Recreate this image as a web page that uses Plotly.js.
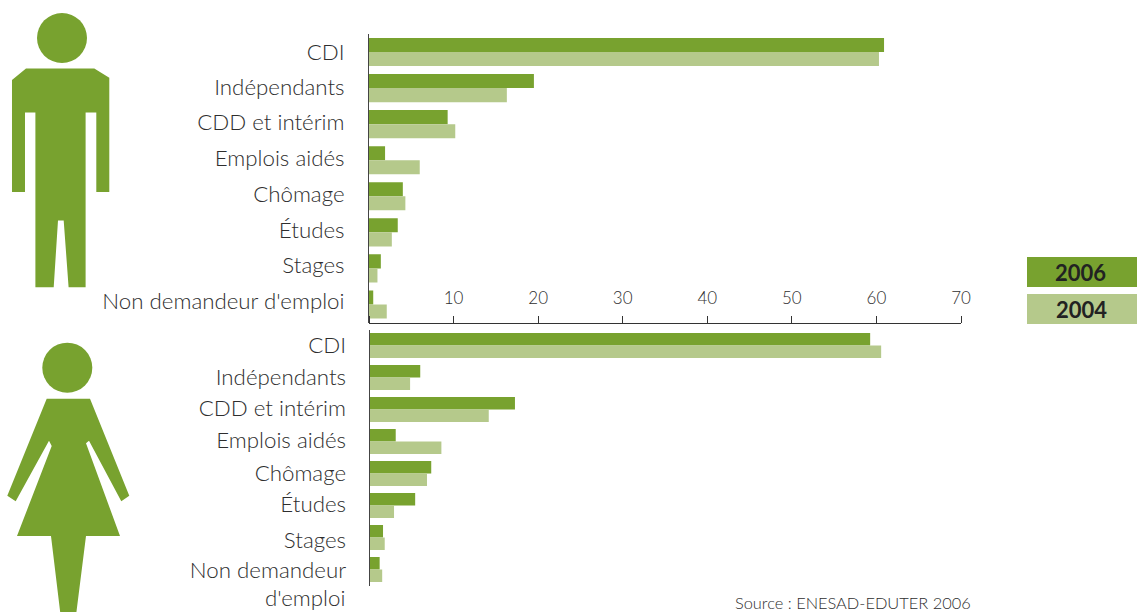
<!DOCTYPE html>
<html><head><meta charset="utf-8">
<script src="https://cdn.plot.ly/plotly-3.0.1.min.js"></script>
<style>html,body{margin:0;padding:0;background:#fff;overflow:hidden}</style>
</head><body><div id="chart" style="width:1137px;height:612px"></div>
<script>
const menCategories = ["CDI","Indépendants","CDD et intérim","Emplois aidés","Chômage","Études","Stages","Non demandeur d'emploi"];
const womenCategories = ["CDI","Indépendants","CDD et intérim","Emplois aidés","Chômage","Études","Stages","Non demandeur"];
const men2006 = [60.9,19.5,9.3,1.9,4.0,3.4,1.4,0.5];
const men2004 = [60.3,16.3,10.2,6.0,4.3,2.7,1.0,2.1];
const women2006 = [59.2,6.0,17.2,3.1,7.3,5.4,1.6,1.2];
const women2004 = [60.5,4.8,14.1,8.5,6.8,2.9,1.8,1.5];
const xTicks = [0,10,20,30,40,50,60,70];
const xTickText = ["","10","20","30","40","50","60","70"];
const menLabelShift = [0,-0.03,-0.05,-0.05,-0.05,-0.05,-0.08,-0.08];
const womenLabelShift = [0,0,-0.05,-0.05,0,-0.05,0.09,0.02];
const C06 = "#78A22F", C04 = "#B5C98B", TXT = "#2e2e2e";
const FF = "Lato, sans-serif";
const W = 1137, H = 612;
const fx = p => p / W, fy = p => 1 - p / H;
const idx = a => a.map((_, i) => i);
const path = pts => "M" + pts.map(p => fx(p[0]).toFixed(5) + "," + fy(p[1]).toFixed(5)).join("L") + "Z";
const manBody = [[26,68.4],[94.3,68.4],[109.3,77.8],[109.3,192],[96.3,192],[96.3,112.4],[85.6,112.4],[85.6,287.3],[68.6,287.3],[63.7,220.4],[58,220.4],[53.7,287.3],[35.4,287.3],[35.4,112.4],[25,112.4],[25,192],[12,192],[12,80]];
const womanBody = [[46.7,398.7],[90,398.7],[129.3,495.7],[121.3,501.3],[89,440.7],[86,443.3],[120,536],[86,536],[76.3,613],[60.3,613],[51,536],[17,536],[51.7,446],[49,440.7],[15.7,501.3],[7.3,495.7]];
const circle = (cx, cy, r) => ({type:"circle",xref:"paper",yref:"paper",x0:fx(cx-r),x1:fx(cx+r),y0:fy(cy+r),y1:fy(cy-r),fillcolor:C06,line:{width:0},layer:"below"});
const poly = pts => ({type:"path",xref:"paper",yref:"paper",path:path(pts),fillcolor:C06,line:{width:0},layer:"below"});
const rect = (x0, y0, x1, y1, c) => ({type:"rect",xref:"paper",yref:"paper",x0:fx(x0),x1:fx(x1),y0:fy(y1),y1:fy(y0),fillcolor:c,line:{width:0},layer:"below"});
const bar = (y, x, c, ax, ay, name) => ({type:"bar",orientation:"h",name,y,x,xaxis:ax,yaxis:ay,marker:{color:c,line:{width:0}},hoverinfo:"x+y"});
const traces = [
  bar(idx(men2006), men2006, C06, "x", "y", "2006"),
  bar(idx(men2004), men2004, C04, "x", "y", "2004"),
  bar(idx(women2006), women2006, C06, "x2", "y2", "2006"),
  bar(idx(women2004), women2004, C04, "x2", "y2", "2004")
];
const yAxis = (labels, shift, dom, anchor, standoff) => ({
  domain: dom, anchor, range:[7.5,-0.5], tickmode:"array",
  tickvals: labels.map((_, i) => i + shift[i]), ticktext: labels,
  ticks:"", showgrid:false, zeroline:false, showline:true, linecolor:"#444", linewidth:1,
  ticklabelstandoff: standoff, tickfont:{family:FF,size:22.3,color:TXT,weight:300}
});
const layout = {
  width:W, height:H, margin:{l:0,r:0,t:0,b:0}, paper_bgcolor:"#fff", plot_bgcolor:"rgba(0,0,0,0)",
  showlegend:false, barmode:"group", bargap:0.22, bargroupgap:0,
  xaxis:{domain:[fx(369),fx(961)],anchor:"free",position:fy(323),side:"top",range:[0,70],tickmode:"array",tickvals:xTicks,ticktext:xTickText,
    ticks:"outside",ticklen:7,tickwidth:1,tickcolor:"#333",ticklabelstandoff:5,
    showgrid:false,zeroline:false,showline:true,linecolor:"#333",linewidth:1,
    tickfont:{family:FF,size:17,color:TXT,weight:300}},
  yaxis:yAxis(menCategories, menLabelShift, [fy(322.5),fy(34)], "x", 19),
  xaxis2:{domain:[fx(369.5),fx(961.5)],anchor:"y2",range:[0,70],visible:false},
  yaxis2:yAxis(womenCategories, womenLabelShift, [fy(585.5),fy(329.5)], "x2", 18),
  shapes:[circle(62,38,25), poly(manBody), circle(67.3,367.7,25), poly(womanBody),
    rect(1027,257,1137,287,C06), rect(1027,294,1137,324,C04)],
  annotations:[
    {xref:"paper",yref:"paper",x:fx(347),y:fy(597),xanchor:"right",yanchor:"middle",text:"d'emploi",showarrow:false,font:{family:FF,size:22.3,color:TXT,weight:300}},
    {xref:"paper",yref:"paper",x:fx(1080),y:fy(272),xanchor:"center",yanchor:"middle",text:"<b>2006</b>",showarrow:false,font:{family:FF,size:22,color:"#222"},borderpad:0},
    {xref:"paper",yref:"paper",x:fx(1081),y:fy(309),xanchor:"center",yanchor:"middle",text:"<b>2004</b>",showarrow:false,font:{family:FF,size:22,color:"#222"},borderpad:0},
    {xref:"paper",yref:"paper",x:fx(734),y:fy(602),xanchor:"left",yanchor:"middle",text:"Source : ENESAD-EDUTER 2006",showarrow:false,font:{family:FF,size:16.4,color:TXT,weight:300},borderpad:0}
  ]
};
Plotly.newPlot("chart", traces, layout, {displayModeBar:false, staticPlot:true});
</script></body></html>
